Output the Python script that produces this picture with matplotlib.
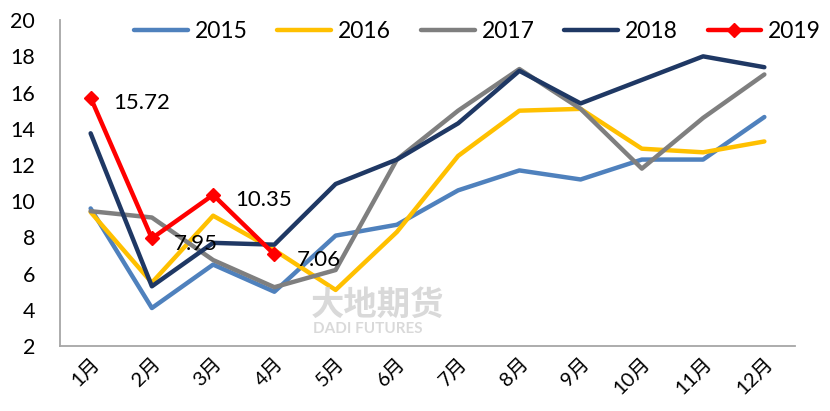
import matplotlib
matplotlib.use("Agg")
import matplotlib.pyplot as plt

plt.rcParams['font.family'] = ['Lato', 'Noto Sans CJK SC', 'DejaVu Sans']

months = ['1月', '2月', '3月', '4月', '5月', '6月', '7月', '8月', '9月', '10月', '11月', '12月']
s2015 = [9.6, 4.1, 6.5, 5.0, 8.1, 8.7, 10.6, 11.7, 11.2, 12.3, 12.3, 14.65]
s2016 = [9.4, 5.5, 9.2, 7.3, 5.1, 8.3, 12.5, 15.0, 15.1, 12.9, 12.7, 13.3]
s2017 = [9.45, 9.1, 6.75, 5.25, 6.2, 12.3, 15.0, 17.3, 15.1, 11.8, 14.6, 17.0]
s2018 = [13.75, 5.3, 7.7, 7.6, 10.95, 12.3, 14.3, 17.2, 15.4, 16.7, 18.0, 17.4]
s2019 = [15.72, 7.95, 10.35, 7.06]
yticks = [2, 4, 6, 8, 10, 12, 14, 16, 18, 20]

fig = plt.figure(figsize=(8.3, 4.11), dpi=100)
ax = fig.add_axes([0.0723, 0.158, 0.8855, 0.793])

x = list(range(len(months)))
lw = 3.2
ax.plot(x, s2015, color='#4F81BD', lw=lw, label='2015', solid_capstyle='round', zorder=2)
ax.plot(x, s2016, color='#FFC000', lw=lw, label='2016', solid_capstyle='round', zorder=2)
ax.plot(x, s2017, color='#7F7F7F', lw=lw, label='2017', solid_capstyle='round', zorder=2)
ax.plot(x, s2018, color='#1F3864', lw=lw, label='2018', solid_capstyle='round', zorder=3)
ax.plot(x[:len(s2019)], s2019, color='#FF0000', lw=lw, marker='D', markersize=7,
        label='2019', solid_capstyle='round', zorder=4)

for xi, v in zip(x, s2019):
    ax.annotate(f'{v:.2f}', (xi, v), xytext=(16, -4), textcoords='offset points',
                ha='left', va='center', fontsize=16, color='black', zorder=5)

ax.set_xlim(-0.5, len(months) - 0.5)
ax.set_ylim(2, 20)
ax.set_yticks(yticks)
ax.set_yticklabels([str(t) for t in yticks], fontsize=15.5)
ax.set_xticks(x)
ax.set_xticklabels(months, fontsize=14.5, rotation=45, ha='right', rotation_mode='anchor')
ax.tick_params(axis='both', length=0)
ax.tick_params(axis='y', pad=18)
ax.tick_params(axis='x', pad=6)

for s in ['top', 'right']:
    ax.spines[s].set_visible(False)
for s in ['left', 'bottom']:
    ax.spines[s].set_color('#A6A6A6')
    ax.spines[s].set_linewidth(1.3)

# faint watermark
fig.text(0.375, 0.26, '大地期货', fontsize=24, color='#D0D0D0', alpha=0.8,
         ha='left', va='center', zorder=0, fontweight='bold')
fig.text(0.377, 0.2, 'DADI FUTURES', fontsize=11, color='#D0D0D0', alpha=0.8,
         ha='left', va='center', zorder=0, fontweight='bold')

leg = ax.legend(loc='upper center', bbox_to_anchor=(0.568, 1.06), ncol=5, frameon=False,
                fontsize=16.5, handlelength=2.35, handletextpad=0.3, columnspacing=1.3)

fig.savefig('out.png', dpi=100, facecolor='white')
